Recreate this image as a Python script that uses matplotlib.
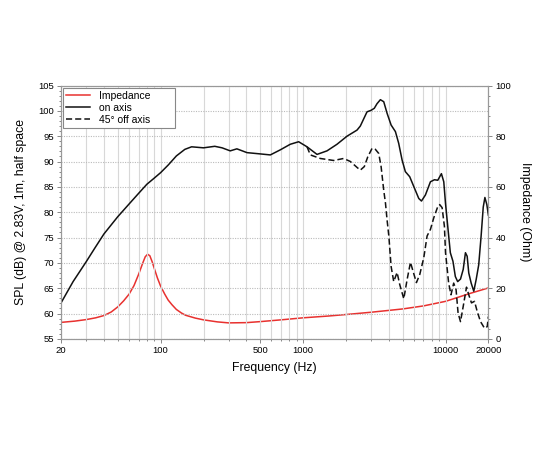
import matplotlib
matplotlib.use("Agg")
import matplotlib.pyplot as plt
from matplotlib.ticker import FixedLocator, NullFormatter, MultipleLocator, LogLocator

plt.rcParams['font.family'] = ['Liberation Sans', 'DejaVu Sans']

# on-axis SPL (dB)
on_freq = [20, 24.3, 30, 34.5, 40, 50, 60, 70, 80, 90, 100, 113, 129, 148, 165, 200, 240,
           270, 308, 343, 404, 500, 589, 692, 813, 931, 1066, 1253, 1472, 1730, 2036, 2392,
           2523, 2811, 3000, 3162, 3303, 3489, 3684, 3890, 4150, 4449, 4690, 4955, 5224,
           5605, 6000, 6490, 6780, 7227, 7836, 8360, 8824, 9359, 9722, 10000, 10300, 10810,
           11280, 11720, 12170, 12740, 13310, 13800, 14190, 14560, 15140, 15790, 16410,
           17100, 17780, 18400, 18900, 19500, 20000]
on_spl = [62.1, 66.3, 70.2, 72.9, 75.7, 79.1, 81.6, 83.7, 85.5, 86.7, 87.8, 89.3, 91.1,
          92.4, 92.9, 92.7, 93.0, 92.7, 92.1, 92.5, 91.75, 91.5, 91.3, 92.3, 93.4, 93.9,
          92.9, 91.4, 92.1, 93.4, 95.0, 96.2, 97.0, 99.8, 100.1, 100.5, 101.4, 102.2, 101.8,
          99.5, 97.2, 95.9, 93.6, 90.3, 88.0, 87.0, 85.0, 82.7, 82.2, 83.4, 86.0, 86.4, 86.3,
          87.6, 86.0, 81.7, 78.0, 72.0, 70.3, 67.3, 66.3, 66.8, 68.7, 72.0, 71.3, 68.0, 66.0,
          64.4, 66.7, 69.6, 75.3, 81.0, 82.9, 81.5, 79.4]

# 45 degree off axis SPL (dB)
off_freq = [1066, 1125, 1321, 1640, 1928, 2148, 2400, 2523, 2692, 2844, 3051, 3218, 3396,
            3530, 3684, 3788, 3890, 4000, 4150, 4329, 4571, 4773, 5095, 5375, 5675, 5921,
            6248, 6594, 7036, 7425, 7836, 8273, 8824, 9100, 9462, 9823, 10000, 10520, 10930,
            11410, 11860, 12250, 12740, 13310, 14040, 14560, 15210, 15980, 16690, 17610,
            18780, 19620, 20000]
off_spl = [92.9, 91.3, 90.6, 90.2, 90.6, 90.0, 88.8, 88.3, 89.0, 90.9, 92.6, 92.4, 91.6,
           89.0, 84.3, 81.8, 78.4, 75.3, 69.3, 66.3, 68.1, 65.7, 62.9, 66.7, 70.1, 68.3,
           66.1, 67.7, 71.0, 75.3, 76.6, 78.9, 81.1, 81.5, 80.9, 77.2, 72.0, 66.0, 63.7,
           66.0, 64.7, 60.1, 58.4, 61.4, 65.2, 63.7, 62.1, 62.4, 60.4, 58.4, 57.1, 57.4, 59.4]

# impedance (Ohm)
imp_freq = [20, 25, 30, 35, 40, 45, 50, 55, 60, 65, 70, 75, 78, 81, 84, 87, 91, 95, 100,
            107, 113, 120, 129, 140, 150, 175, 200, 250, 300, 400, 500, 700, 1000, 1500,
            2000, 3000, 5000, 7000, 10000, 15000, 20000]
imp_ohm = [6.5, 7.0, 7.6, 8.3, 9.2, 10.6, 12.6, 15.0, 17.6, 21.0, 25.4, 30.0, 32.4, 33.4,
           32.8, 30.6, 27.2, 24.0, 20.8, 17.6, 15.3, 13.5, 11.6, 10.2, 9.3, 8.2, 7.5, 6.7,
           6.3, 6.4, 6.8, 7.5, 8.3, 9.0, 9.6, 10.5, 11.8, 13.0, 14.8, 18.0, 20.1]

fig = plt.figure(figsize=(5.5, 4.5), dpi=100)
ax1 = fig.add_axes([0.111, 0.247, 0.777, 0.563])
ax2 = ax1.twinx()

ax1.set_xscale('log')
ax1.set_xlim(20, 20000)
ax1.set_ylim(55, 105)
ax2.set_ylim(0, 100)

ax1.xaxis.set_major_locator(FixedLocator([20, 100, 500, 1000, 10000, 20000]))
ax1.set_xticklabels(['20', '100', '500', '1000', '10000', '20000'])
ax1.xaxis.set_minor_locator(LogLocator(base=10, subs=range(1, 10), numticks=20))
ax1.xaxis.set_minor_formatter(NullFormatter())
ax1.yaxis.set_major_locator(MultipleLocator(5))
ax1.yaxis.set_minor_locator(MultipleLocator(1))
ax2.yaxis.set_major_locator(MultipleLocator(20))
ax2.yaxis.set_minor_locator(MultipleLocator(4))

ax1.grid(True, which='both', axis='x', color='#d8d8d8', lw=0.8, ls='-')
ax1.grid(True, which='major', axis='y', color='#bbbbbb', lw=0.8, ls=(0, (1, 1.2)))
ax1.set_axisbelow(True)

for ax in (ax1, ax2):
    ax.tick_params(which='both', labelsize=6.8, color='#888888', length=3, width=0.7, pad=2)
    ax.tick_params(which='minor', length=1.5)
    for s in ax.spines.values():
        s.set_color('#999999')
        s.set_linewidth(0.8)

l1, = ax2.plot(imp_freq, imp_ohm, color='#e8312f', lw=1.1, label='Impedance',
               solid_joinstyle='round')
l2, = ax1.plot(on_freq, on_spl, color='#111111', lw=1.1, label='on axis',
               solid_joinstyle='round')
l3, = ax1.plot(off_freq, off_spl, color='#111111', lw=1.1, ls=(0, (4, 2)),
               label='45° off axis', dash_joinstyle='round')
ax1.set_zorder(ax2.get_zorder() + 1)
ax1.patch.set_visible(False)

leg = ax1.legend(handles=[l1, l2, l3], loc='upper left', fontsize=7.5, fancybox=False,
                 edgecolor='#888888', framealpha=1,
                 bbox_to_anchor=(0.005, 0.836, 0.262, 0.155), mode='expand',
                 borderaxespad=0, handlelength=2.3, handletextpad=0.8,
                 labelspacing=0.2, borderpad=0.3)
leg.get_frame().set_linewidth(0.8)

ax1.set_xlabel('Frequency (Hz)', fontsize=8.8, labelpad=5)
ax1.set_ylabel('SPL (dB) @ 2.83V, 1m, half space', fontsize=8.8, labelpad=8)
ax2.set_ylabel('Impedance (Ohm)', fontsize=8.8, rotation=270, labelpad=14)

fig.savefig('out.png', dpi=100)
